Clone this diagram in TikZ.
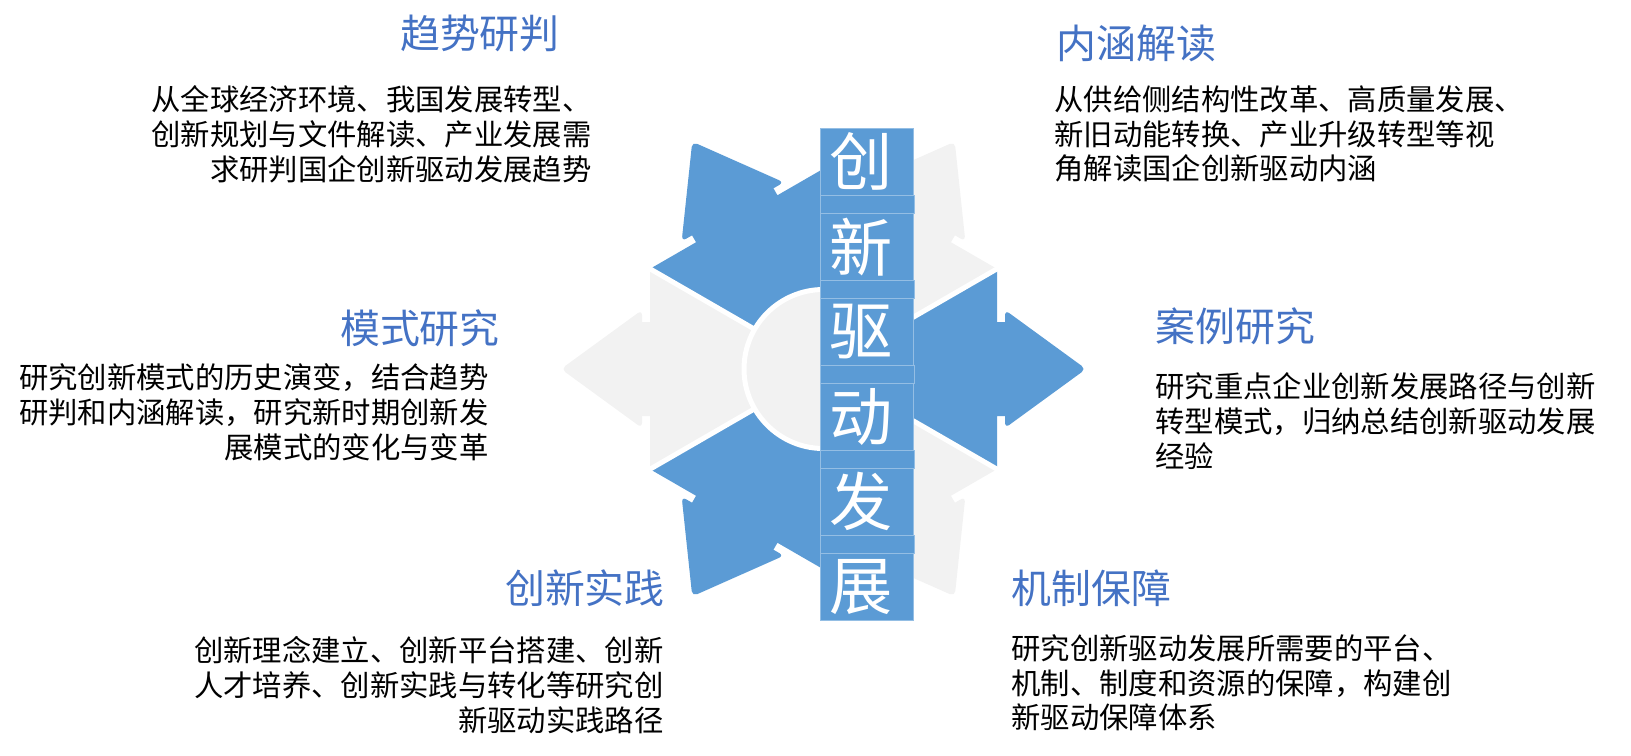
\documentclass[tikz,border=0pt]{standalone}
\usepackage{fontspec}
\setmainfont{Noto Sans CJK SC}
\definecolor{arrowblue}{HTML}{5B9BD5}
\definecolor{petalgray}{HTML}{F2F2F2}
\definecolor{titleblue}{HTML}{4472C4}

\begin{document}
\begin{tikzpicture}[x=0.02cm, y=-0.02cm,
        title/.style={font=\fontsize{22.7}{27}\selectfont, text=titleblue, inner sep=0pt},
        body/.style={font=\fontsize{16.7}{19.85}\selectfont, inner sep=0pt},
        charbox/.style={fill=arrowblue, draw=arrowblue!65!white, line width=0.5pt,
            minimum width=1.852cm, minimum height=1.34cm, inner sep=0pt},
        gapbox/.style={fill=arrowblue, draw=arrowblue!65!white, line width=0.5pt,
            minimum width=1.88cm, minimum height=0.36cm, inner sep=0pt},
        chartext/.style={font=\fontsize{36}{40}\selectfont, text=white, inner sep=0pt}]

        \useasboundingbox (0,0) rectangle (1631,755);

        % star of six arrows
        \begin{scope}[shift={(823.5,369)}]
            \foreach \a/\c in {0/arrowblue,60/petalgray,120/arrowblue,180/petalgray,240/arrowblue,300/petalgray} {
                \fill[\c, rotate=\a] (0,0) -- (173.5,-100.2) -- (173.5,-47) -- (183,-47) -- (183,47) -- (173.5,47) -- (173.5,100.2) -- cycle;
                \fill[\c, rotate=\a, rounded corners=3pt] (181.5,-59) -- (262.5,0) -- (181.5,59) -- cycle;
            }
            \foreach \a in {30,90,...,330}
                \draw[white, line width=0.1cm] (0,0) -- (\a:203);
            \draw[white, line width=0.1cm, fill=petalgray] (0,0) circle (79.5);
        \end{scope}

        % title column
        \foreach \i in {0,...,4}
            \node[gapbox] (gap\i) at (867.7, 204.3+85*\i) {};
        \foreach \ch [count=\i from 0] in {创,新,驱,动,发,展} {
            \node[charbox] (box\i) at (867, 161.8+85*\i) {};
            \node[chartext] (ch\i) at ([xshift=-0.12cm]box\i.center) {\ch};
        }

        \node[title, anchor=north east] (trendtitle) at (560,14.5) {趋势研判};
        \node[body, anchor=north east, align=right] (trendtext) at (592,85)
            {从全球经济环境、我国发展转型、\\创新规划与文件解读、产业发展需\\求研判国企创新驱动发展趋势};

        \node[title, anchor=north west] (meaningtitle) at (1056,25) {内涵解读};
        \node[body, anchor=north west, align=left] (meaningtext) at (1054,85)
            {从供给侧结构性改革、高质量发展、\\新旧动能转换、产业升级转型等视\\角解读国企创新驱动内涵};

        \node[title, anchor=north east] (modetitle) at (500,309) {模式研究};
        \node[body, anchor=north east, align=right] (modetext) at (489,363)
            {研究创新模式的历史演变，结合趋势\\研判和内涵解读，研究新时期创新发\\展模式的变化与变革};

        \node[title, anchor=north west] (casetitle) at (1155,307) {案例研究};
        \node[body, anchor=north west, align=left] (casetext) at (1155,372)
            {研究重点企业创新发展路径与创新\\转型模式，归纳总结创新驱动发展\\经验};

        \node[title, anchor=north east] (practicetitle) at (665,569) {创新实践};
        \node[body, anchor=north east, align=right] (practicetext) at (664,636)
            {创新理念建立、创新平台搭建、创新\\人才培养、创新实践与转化等研究创\\新驱动实践路径};

        \node[title, anchor=north west] (guaranteetitle) at (1011,569) {机制保障};
        \node[body, anchor=north west, align=left] (guaranteetext) at (1011,634)
            {研究创新驱动发展所需要的平台、\\机制、制度和资源的保障，构建创\\新驱动保障体系};

\end{tikzpicture}
\end{document}
